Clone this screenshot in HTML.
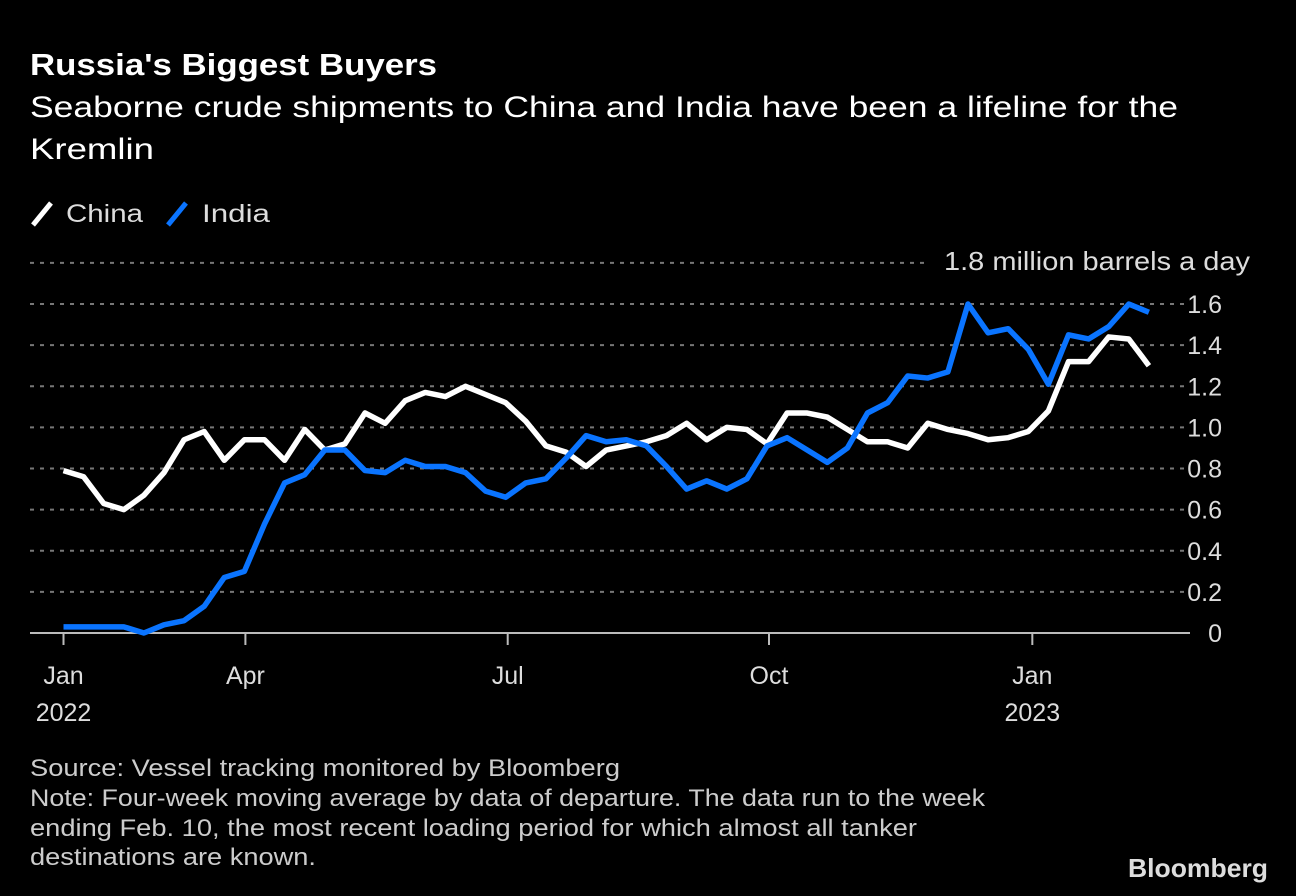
<!DOCTYPE html>
<html><head><meta charset="utf-8"><style>
html,body{margin:0;padding:0;background:#000;}
svg{display:block;font-family:"Liberation Sans",sans-serif;}
</style></head><body>
<svg id="chart" width="1296" height="896" viewBox="0 0 1296 896">
<rect width="1296" height="896" fill="#000"/>
<text x="30" y="75" fill="#fff" font-size="31" font-weight="bold" textLength="407" lengthAdjust="spacingAndGlyphs">Russia's Biggest Buyers</text>
<text x="30" y="117" fill="#fff" font-size="30" textLength="1148" lengthAdjust="spacingAndGlyphs">Seaborne crude shipments to China and India have been a lifeline for the</text>
<text x="30" y="159" fill="#fff" font-size="30" textLength="124" lengthAdjust="spacingAndGlyphs">Kremlin</text>
<g>
<g><line x1="33" y1="225" x2="51" y2="203" stroke="#fff" stroke-width="5"/><text x="66" y="222" fill="#ddd" font-size="25" textLength="77" lengthAdjust="spacingAndGlyphs">China</text></g>
<g><line x1="168" y1="225" x2="186" y2="203" stroke="#0a74ff" stroke-width="5"/><text x="202" y="222" fill="#ddd" font-size="25" textLength="68" lengthAdjust="spacingAndGlyphs">India</text></g>
</g>
<text x="1250" y="270" fill="#ddd" font-size="26" text-anchor="end" textLength="306" lengthAdjust="spacingAndGlyphs">1.8 million barrels a day</text>
<g id="grid"></g><g id="xaxis"></g><g id="lines"></g>
<text x="30" y="776" fill="#ccc" font-size="24" textLength="590" lengthAdjust="spacingAndGlyphs">Source: Vessel tracking monitored by Bloomberg</text>
<text x="30" y="806" fill="#ccc" font-size="24" textLength="955" lengthAdjust="spacingAndGlyphs">Note: Four-week moving average by data of departure. The data run to the week</text>
<text x="30" y="836" fill="#ccc" font-size="24" textLength="887" lengthAdjust="spacingAndGlyphs">ending Feb. 10, the most recent loading period for which almost all tanker</text>
<text x="30" y="865" fill="#ccc" font-size="24" textLength="286" lengthAdjust="spacingAndGlyphs">destinations are known.</text>
<text x="1268" y="877" fill="#ddd" font-size="26" font-weight="bold" text-anchor="end" textLength="140" lengthAdjust="spacingAndGlyphs">Bloomberg</text>
</svg>
<script>
const china=[0.79,0.76,0.63,0.60,0.67,0.78,0.94,0.98,0.84,0.94,0.94,0.84,0.99,0.89,0.92,1.07,1.02,1.13,1.17,1.15,1.20,1.16,1.12,1.03,0.91,0.88,0.81,0.89,0.91,0.93,0.96,1.02,0.94,1.00,0.99,0.92,1.07,1.07,1.05,0.99,0.93,0.93,0.90,1.02,0.99,0.97,0.94,0.95,0.98,1.08,1.32,1.32,1.44,1.43,1.30];
const india=[0.03,0.03,0.03,0.03,0.00,0.04,0.06,0.13,0.27,0.30,0.53,0.73,0.77,0.89,0.89,0.79,0.78,0.84,0.81,0.81,0.78,0.69,0.66,0.73,0.75,0.85,0.96,0.93,0.94,0.91,0.81,0.70,0.74,0.70,0.75,0.91,0.95,0.89,0.83,0.90,1.07,1.12,1.25,1.24,1.27,1.60,1.46,1.48,1.38,1.21,1.45,1.43,1.49,1.60,1.56];
const yTicks=[0,0.2,0.4,0.6,0.8,1.0,1.2,1.4,1.6];
const yTickLabels=["0","0.2","0.4","0.6","0.8","1.0","1.2","1.4","1.6"];
const xTickWeeks=[0,9.05,22.1,35.1,48.2];
const xTickMonths=["Jan","Apr","Jul","Oct","Jan"];
const xTickYears=["2022","","","","2023"];
const NS="http://www.w3.org/2000/svg";
const x=i=>63.5+i*20.1;
const y=v=>633-v*205.6;
function mk(tag,attrs,parent){const e=document.createElementNS(NS,tag);for(const k in attrs)e.setAttribute(k,attrs[k]);parent.appendChild(e);return e;}
const grid=document.getElementById('grid');
yTicks.forEach((v,k)=>{
  if(v>0){const l=mk('line',{x1:30,x2:1190,y1:y(v),y2:y(v),stroke:'#777','stroke-width':2,'stroke-dasharray':'4 6'},grid);
  
  }
  const t=mk('text',{x:1222,y:y(v)+9,fill:'#ddd','font-size':25,'text-anchor':'end'},grid);
  t.textContent=yTickLabels[k];
  
  
});
const g1=mk('line',{x1:30,x2:930,y1:y(1.8),y2:y(1.8),stroke:'#777','stroke-width':2,'stroke-dasharray':'4 6'},grid);


const xa=document.getElementById('xaxis');
const base=mk('line',{x1:30,x2:1190,y1:633,y2:633,stroke:'#bbb','stroke-width':2},xa);


xTickWeeks.forEach((w,k)=>{
  const tk=mk('line',{x1:x(w),x2:x(w),y1:633,y2:645,stroke:'#bbb','stroke-width':2},xa);
  
  
  const t=mk('text',{x:x(w),y:684,fill:'#ddd','font-size':25,'text-anchor':'middle'},xa);
  t.textContent=xTickMonths[k];
  
  
  if(xTickYears[k]){const t2=mk('text',{x:x(w),y:721,fill:'#ddd','font-size':25,'text-anchor':'middle'},xa);
  t2.textContent=xTickYears[k];
  
  }
});
const lines=document.getElementById('lines');
const pc=mk('polyline',{points:china.map((v,i)=>x(i)+','+y(v)).join(' '),fill:'none',stroke:'#fff','stroke-width':5.5,'stroke-linejoin':'round'},lines);


const pi=mk('polyline',{points:india.map((v,i)=>x(i)+','+y(v)).join(' '),fill:'none',stroke:'#0a74ff','stroke-width':5.5,'stroke-linejoin':'round'},lines);


</script>
</body></html>
